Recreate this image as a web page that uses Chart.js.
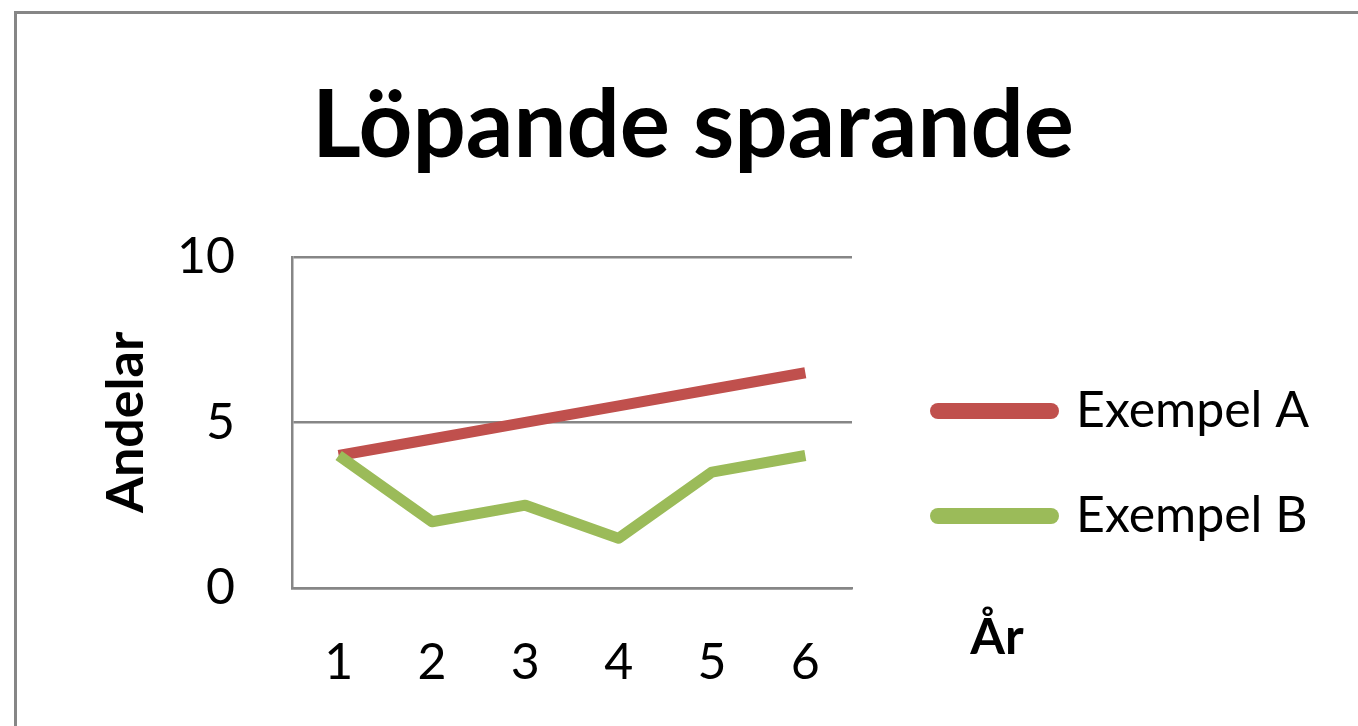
<!DOCTYPE html>
<html lang="sv">
<head>
<meta charset="UTF-8">
<title>Löpande sparande</title>
<script src="https://cdn.jsdelivr.net/npm/chart.js"></script>
<style>
  html, body { margin: 0; padding: 0; background: #ffffff; overflow: hidden; }
  /* grey chart frame, cut off at right and bottom like the screenshot */
  .frame { position: absolute; left: 14px; top: 11px; width: 2000px; height: 2000px; border: 3px solid #868686; }
  #wrap { position: absolute; left: 0; top: 0; width: 1358px; height: 726px; }
</style>
</head>
<body>
<div class="frame"></div>
<div id="wrap"><canvas id="chart" width="1358" height="726"></canvas></div>
<script>
const chartTitle = 'Löpande sparande';
const yTitle = 'Andelar';
const xTitle = 'År';
const years = ['1', '2', '3', '4', '5', '6'];
const seriesNames = ['Exempel A', 'Exempel B'];
const exempelA = [4, 4.5, 5, 5.5, 6, 6.5];
const exempelB = [4, 2, 2.5, 1.5, 3.5, 4];
const yMin = 0, yMax = 10, yStep = 5;

Chart.defaults.font.family = 'Lato';
Chart.defaults.color = '#000';

// nudge the legend to its spot and draw the "År" label right of the axis
const layoutTweaks = {
  id: 'layoutTweaks',
  afterLayout(chart) {
    const lg = chart.legend;
    if (!lg) return;
    lg.left += 31;
    lg.right = chart.width;
    lg.width = lg.right - lg.left;
    lg.top += 8; lg.bottom += 8;
  },
  afterDraw(chart) {
    const { ctx, chartArea } = chart;
    ctx.save();
    ctx.font = 'bold 50px Lato';
    ctx.fillStyle = '#000';
    ctx.textAlign = 'center';
    ctx.textBaseline = 'alphabetic';
    ctx.fillText(xTitle, chartArea.right + 145, chartArea.bottom + 66);
    ctx.restore();
  }
};

const ctx = document.getElementById('chart').getContext('2d');
new Chart(ctx, {
  type: 'line',
  data: {
    labels: years,
    datasets: [{
      label: seriesNames[0],
      data: exempelA,
      borderColor: '#C0504D',
      backgroundColor: '#C0504D',
      borderWidth: 11,
      pointRadius: 0,
      tension: 0,
      borderJoinStyle: 'round',
      fill: false,
      order: 2
    }, {
      label: seriesNames[1],
      data: exempelB,
      borderColor: '#9BBB59',
      backgroundColor: '#9BBB59',
      borderWidth: 11,
      pointRadius: 0,
      tension: 0,
      borderJoinStyle: 'round',
      fill: false,
      order: 1
    }]
  },
  options: {
    responsive: false,
    animation: false,
    layout: { padding: { left: 124, right: 96, top: 0, bottom: 0 } },
    plugins: {
      title: {
        display: true,
        text: chartTitle,
        color: '#000',
        font: { size: 94, weight: 'bold' },
        padding: { top: 70, bottom: 74 }
      },
      legend: {
        position: 'right',
        fullSize: false,
        align: 'end',
        maxWidth: 410,
        labels: {
          usePointStyle: true,
          pointStyle: 'line',
          pointStyleWidth: 113,
          padding: 55,
          color: '#000',
          font: { size: 50 },
          sort: (a, b) => a.datasetIndex - b.datasetIndex,
          generateLabels(chart) {
            const items = Chart.defaults.plugins.legend.labels.generateLabels(chart);
            items.forEach(it => { it.lineWidth = 16; it.lineCap = 'round'; });
            return items;
          }
        }
      },
      tooltip: { enabled: false }
    },
    scales: {
      x: {
        offset: true,
        grid: { display: false, drawTicks: false },
        border: { display: true, color: '#868686', width: 2.5 },
        ticks: { color: '#000', font: { size: 50 }, padding: 45 },
        afterFit(scale) { scale.height = 138; }
      },
      y: {
        min: yMin,
        max: yMax,
        ticks: { stepSize: yStep, color: '#000', font: { size: 50 }, padding: 57 },
        grid: { color: '#868686', lineWidth: 2.5, drawTicks: false },
        border: { display: true, color: '#868686', width: 2.5 },
        title: {
          display: true,
          text: yTitle,
          color: '#000',
          font: { size: 52, weight: 'bold' },
          padding: { top: -28.7, bottom: 0 }
        },
        afterFit(scale) { scale.width = 168; }
      }
    }
  },
  plugins: [layoutTweaks]
});
</script>
</body>
</html>
